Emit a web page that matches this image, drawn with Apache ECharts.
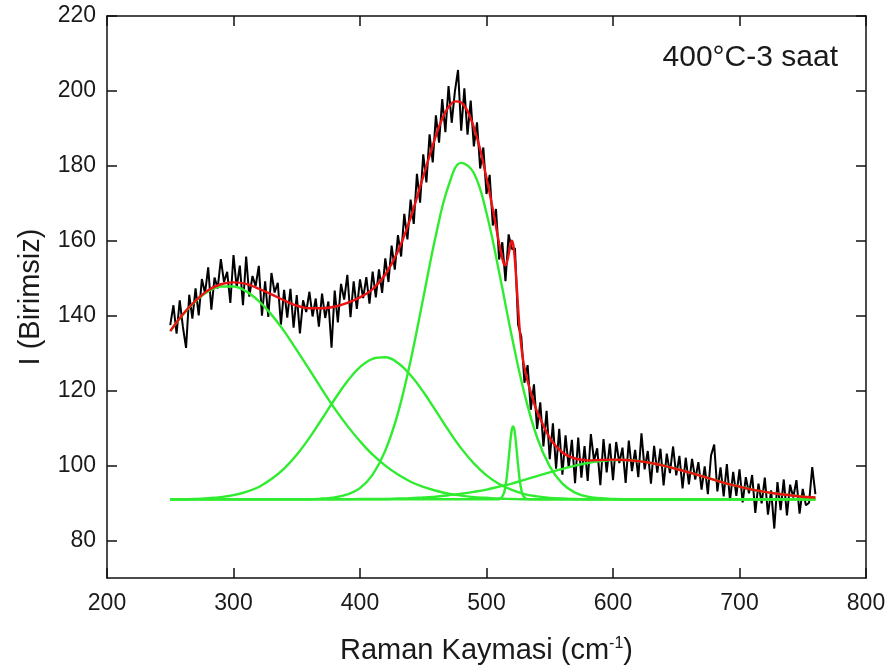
<!DOCTYPE html>
<html>
<head>
<meta charset="utf-8">
<script src="https://cdn.jsdelivr.net/npm/echarts@6/dist/echarts.min.js"></script>
<style>
  html, body { margin: 0; padding: 0; background: #fff; }
  #chart { width: 893px; height: 670px; }
</style>
</head>
<body>
<div id="chart"></div>
<script>
// Measured Raman spectrum: regular grid from 250 cm-1, every 2.5 cm-1
const ramanStart = 250;
const ramanStep = 2.5;
const measured = [
  137.5, 142.8, 135.2, 144.1,
  137.0, 131.4, 145.6, 139.2,
  147.3, 140.1, 149.8, 146.0,
  152.9, 141.6, 150.2, 147.3,
  155.1, 149.0, 151.7, 143.4,
  156.2, 147.5, 153.4, 142.8,
  155.8, 145.1, 150.6, 147.9,
  153.3, 140.0, 149.2, 139.7,
  151.4, 146.2, 148.8, 137.6,
  146.9, 139.5, 147.2, 136.8,
  145.5, 135.3, 144.1, 141.0,
  146.4, 139.8, 144.6, 137.1,
  145.9, 139.4, 143.8, 131.5,
  146.7, 138.2, 148.5, 144.3,
  150.9, 139.6, 149.2, 141.8,
  149.7, 144.7, 150.3, 143.2,
  151.8, 144.9, 152.4, 146.1,
  155.3, 149.0, 158.7, 152.3,
  161.5, 155.8, 167.2, 160.4,
  171.0, 164.5, 177.9, 170.2,
  183.1, 175.6, 188.4, 180.9,
  193.5, 186.2, 197.8, 189.0,
  201.3, 191.5, 199.8, 205.6,
  189.4, 200.7, 188.3, 197.4,
  185.2, 191.6, 179.3, 184.9,
  172.5, 177.6, 164.1, 168.5,
  155.0, 159.6, 149.2, 161.7,
  157.8, 158.0, 137.6, 134.4,
  122.1, 126.8, 114.9, 121.7,
  109.8, 116.9, 105.1, 114.6,
  101.7, 111.3, 99.2, 109.8,
  97.6, 108.1, 99.4, 106.9,
  95.3, 107.5, 96.8, 105.2,
  95.9, 108.4, 101.3, 104.6,
  94.8, 107.1, 98.2, 105.9,
  96.1, 106.3, 100.7, 104.8,
  95.4, 106.7, 98.5, 104.2,
  96.9, 108.6, 99.0, 103.9,
  95.2, 105.3, 98.1, 104.5,
  94.7, 103.2, 98.0, 105.1,
  97.4, 102.6, 93.9, 102.1,
  95.0, 101.8, 96.3, 100.9,
  93.6, 99.8, 92.4, 102.7,
  105.6, 93.1, 99.5, 91.8,
  100.4, 90.7, 98.3, 91.9,
  99.0, 90.2, 96.9, 92.6,
  97.5, 87.4, 95.2, 89.9,
  96.8, 86.9, 93.4, 83.2,
  95.6, 88.1, 96.3, 86.7,
  94.9, 91.5, 96.1, 87.2,
  93.8, 89.4, 90.1, 99.6,
  92.4
];

// Fitted band components on a 10 cm-1 grid (250 ... 760)
const bandShift = [250, 260, 270, 280, 290, 300, 310, 320, 330, 340, 350, 360, 370, 380, 390, 400, 410, 420, 430, 440, 450, 460, 470, 480, 490, 500, 510, 520, 530, 540, 550, 560, 570, 580, 590, 600, 610, 620, 630, 640, 650, 660, 670, 680, 690, 700, 710, 720, 730, 740, 750, 760];
const band295 = [135.9, 140.3, 143.9, 146.5, 147.8, 147.8, 146.5, 143.9, 140.3, 135.9, 130.8, 125.6, 120.3, 115.2, 110.6, 106.5, 102.9, 100.0, 97.6, 95.7, 94.3, 93.3, 92.5, 92.0, 91.6, 91.4, 91.2, 91.1, 91.0, 91.0, 91.0, 91.0, 91.0, 91.0, 91.0, 91.0, 91.0, 91.0, 91.0, 91.0, 91.0, 91.0, 91.0, 91.0, 91.0, 91.0, 91.0, 91.0, 91.0, 91.0, 91.0, 91.0];
const band417 = [91.0, 91.0, 91.1, 91.3, 91.6, 92.1, 93.0, 94.3, 96.4, 99.2, 102.9, 107.4, 112.5, 117.7, 122.5, 126.3, 128.5, 128.9, 127.4, 124.1, 119.7, 114.6, 109.4, 104.6, 100.6, 97.4, 95.1, 93.5, 92.4, 91.8, 91.4, 91.2, 91.1, 91.0, 91.0, 91.0, 91.0, 91.0, 91.0, 91.0, 91.0, 91.0, 91.0, 91.0, 91.0, 91.0, 91.0, 91.0, 91.0, 91.0, 91.0, 91.0];
const band482 = [91.0, 91.0, 91.0, 91.0, 91.0, 91.0, 91.0, 91.0, 91.0, 91.0, 91.0, 91.0, 91.2, 91.5, 92.3, 94.0, 97.6, 104.0, 114.0, 128.0, 144.7, 161.5, 174.7, 180.8, 178.1, 167.4, 151.6, 134.5, 119.2, 107.5, 99.8, 95.2, 92.8, 91.7, 91.3, 91.1, 91.0, 91.0, 91.0, 91.0, 91.0, 91.0, 91.0, 91.0, 91.0, 91.0, 91.0, 91.0, 91.0, 91.0, 91.0, 91.0];
const band605 = [91.0, 91.0, 91.0, 91.0, 91.0, 91.0, 91.0, 91.0, 91.0, 91.0, 91.0, 91.0, 91.0, 91.0, 91.0, 91.1, 91.1, 91.1, 91.2, 91.3, 91.5, 91.7, 92.1, 92.5, 93.0, 93.6, 94.4, 95.2, 96.2, 97.2, 98.2, 99.1, 100.0, 100.7, 101.2, 101.5, 101.5, 101.2, 100.7, 100.0, 99.1, 98.2, 97.2, 96.2, 95.2, 94.4, 93.6, 93.0, 92.5, 92.1, 91.7, 91.5];

// Narrow band near 521 cm-1 on a fine grid
const narrowShift = [250, 508, 510, 511, 512, 513, 514, 515, 516, 517, 518, 519, 520, 521, 522, 523, 524, 525, 526, 527, 528, 529, 530, 531, 532, 534, 760];
const band521 = [91.0, 91.0, 91.0, 91.2, 91.4, 91.9, 92.8, 94.4, 96.8, 100.0, 103.6, 107.1, 109.7, 110.6, 109.7, 107.1, 103.6, 100.0, 96.8, 94.4, 92.8, 91.9, 91.4, 91.2, 91.0, 91.0, 91.0];

// Cumulative fit
const fitShift = [250, 260, 270, 280, 290, 300, 310, 320, 330, 340, 350, 360, 370, 380, 390, 400, 410, 420, 430, 440, 450, 460, 465, 470, 475, 480, 485, 490, 495, 500, 502, 504, 506, 508, 510, 511, 512, 513, 514, 515, 516, 517, 518, 519, 520, 521, 522, 523, 524, 525, 526, 527, 528, 529, 530, 532, 534, 536, 538, 540, 550, 560, 570, 580, 590, 600, 610, 620, 630, 640, 650, 660, 670, 680, 690, 700, 710, 720, 730, 740, 750, 760];
const fitTotal = [135.9, 140.4, 144.0, 146.8, 148.4, 148.9, 148.5, 147.2, 145.7, 144.1, 142.7, 142.0, 142.0, 142.4, 143.4, 144.9, 147.1, 151.0, 157.2, 166.1, 177.2, 188.1, 192.6, 195.7, 197.2, 196.9, 194.6, 190.3, 184.4, 176.8, 173.6, 170.1, 166.6, 162.9, 159.3, 157.6, 156.0, 154.6, 153.7, 153.5, 154.1, 155.5, 157.3, 159.1, 160.0, 159.2, 156.6, 152.4, 147.3, 142.1, 137.3, 133.4, 130.4, 128.0, 126.2, 123.2, 120.7, 118.5, 116.3, 114.4, 107.4, 103.5, 101.9, 101.4, 101.5, 101.6, 101.5, 101.2, 100.7, 100.0, 99.1, 98.2, 97.2, 96.2, 95.2, 94.4, 93.6, 93.0, 92.5, 92.1, 91.7, 91.5];

// Axis ticks
const xTicks = [200, 300, 400, 500, 600, 700, 800];
const yTicks = [80, 100, 120, 140, 160, 180, 200, 220];

const pairs = (xs, ys) => ys.map((v, i) => [xs[i], v]);
const measuredPairs = measured.map((v, i) => [ramanStart + i * ramanStep, v]);

const GREEN = '#30ec30';
const RED = '#ee1111';
const FONT = '"Liberation Sans", Arial, sans-serif';
const TXT = '#1a1a1a';

const chart = echarts.init(document.getElementById('chart'), null, { renderer: 'canvas' });

const frameLine = { show: true, onZero: false, lineStyle: { color: '#111', width: 1.5 } };
const tickIn = { show: true, inside: true, length: 10, lineStyle: { color: '#111', width: 1.5 } };

function greenSeries(name, xs, ys, smooth) {
  return {
    name, type: 'line', data: pairs(xs, ys), showSymbol: false, symbol: 'none',
    smooth: smooth,
    lineStyle: { color: GREEN, width: 2.4 }, z: 3, animation: false
  };
}

chart.setOption({
  backgroundColor: '#fff',
  animation: false,
  grid: { left: 107, right: 27, top: 16, bottom: 92 },
  xAxis: [
    {
      type: 'value', min: 200, max: 800, interval: 100, position: 'bottom',
      axisLine: frameLine, axisTick: tickIn, splitLine: { show: false },
      axisLabel: { fontSize: 23, fontFamily: FONT, color: TXT, margin: 14 },
      name: '{t|Raman Kaymasi (cm}{s|-1}{t|)}', nameLocation: 'middle', nameGap: 58,
      nameTextStyle: {
        rich: {
          t: { fontSize: 29, fontFamily: FONT, color: TXT },
          s: { fontSize: 16, fontFamily: FONT, color: TXT, verticalAlign: 'top', padding: [0, 0, 12, 0] }
        }
      }
    },
    {
      type: 'value', min: 200, max: 800, interval: 100, position: 'top',
      axisLine: frameLine, axisTick: tickIn, axisLabel: { show: false }, splitLine: { show: false }
    }
  ],
  yAxis: [
    {
      type: 'value', min: 70, max: 220, position: 'left',
      axisLine: frameLine,
      axisTick: Object.assign({ customValues: yTicks }, tickIn),
      axisLabel: { customValues: yTicks, fontSize: 23, fontFamily: FONT, color: TXT, margin: 11 },
      splitLine: { show: false },
      name: 'I (Birimsiz)', nameLocation: 'middle', nameGap: 62, nameRotate: 90,
      nameTextStyle: { fontSize: 29, fontFamily: FONT, color: TXT }
    },
    {
      type: 'value', min: 70, max: 220, position: 'right',
      axisLine: frameLine,
      axisTick: Object.assign({ customValues: yTicks }, tickIn),
      axisLabel: { show: false }, splitLine: { show: false }
    }
  ],
  graphic: [
    {
      type: 'text', right: 55, top: 43,
      style: { text: '400°C-3 saat', fontSize: 30, fontFamily: FONT, fill: TXT }
    }
  ],
  series: [
    {
      name: 'Ölçüm', type: 'line', data: measuredPairs, showSymbol: false, symbol: 'none',
      lineStyle: { color: '#000', width: 2 }, z: 2, animation: false
    },
    greenSeries('Bant 295', bandShift, band295, 0.4),
    greenSeries('Bant 417', bandShift, band417, 0.4),
    greenSeries('Bant 482', bandShift, band482, 0.4),
    greenSeries('Bant 521', narrowShift, band521, false),
    greenSeries('Bant 605', bandShift, band605, 0.4),
    {
      name: 'Fit', type: 'line', data: pairs(fitShift, fitTotal), showSymbol: false, symbol: 'none',
      smooth: 0.3,
      lineStyle: { color: RED, width: 2.4 }, z: 4, animation: false
    }
  ]
});
</script>
</body>
</html>
